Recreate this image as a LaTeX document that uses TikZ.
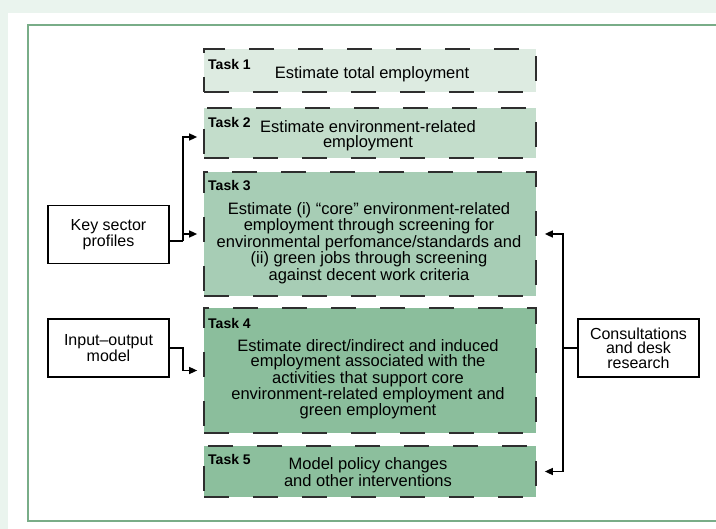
\documentclass[tikz,border=0pt]{standalone}
\usepackage{fontspec}
\setmainfont{Liberation Sans}
\usetikzlibrary{shapes,arrows.meta,fit,positioning,calc}
\definecolor{bgout}{HTML}{EAF4EE}
\definecolor{framegreen}{HTML}{79AD88}
\definecolor{dashgrey}{HTML}{2E2E2E}
\definecolor{taskA}{HTML}{DDEBE1}
\definecolor{taskB}{HTML}{C3DDCB}
\definecolor{taskC}{HTML}{A7CDB5}
\definecolor{taskD}{HTML}{8BBE9C}
\definecolor{taskE}{HTML}{8CBF9D}
\def\TaskFont{\fontsize{16.5}{15}\selectfont}

\begin{document}
\begin{tikzpicture}[x=1pt,y=-1pt,% pixel grid, y runs downwards
			every node/.style={
				align=center,  		% so that "\\" breaks the line
				inner sep=0pt
			},
			task/.style={rectangle,draw=dashgrey,line width=2.7pt,dash pattern=on 25pt off 24pt,minimum width=332pt},
			tasklabel/.style={anchor=west,font=\fontsize{14}{14}\selectfont\bfseries},
			tasktext/.style={font=\TaskFont},
			side/.style={rectangle,draw=black,line width=1.5pt,fill=white,minimum width=121pt,minimum height=58pt,font=\fontsize{16}{14.5}\selectfont},
			link/.style={draw=black,line width=1.5pt},
			arr/.style={link,-{Triangle[length=8pt,width=7pt]},shorten >=5.5pt}
		]
		\useasboundingbox (0,0) rectangle (716,529);
		% page and frame
		\fill[bgout] (0,0) rectangle (716,529);
		\fill[white] (8,13) rectangle (740,540);
		\draw[framegreen,line width=1.5pt] (740,25) -- (28,25) -- (28,521) -- (740,521);

		% the five tasks
		\node[task,fill=taskA,minimum height=43pt](T1) at (370,70.5){};
		\node[task,fill=taskB,minimum height=50pt](T2) at (370,133){};
		\node[task,fill=taskC,minimum height=124pt](T3) at (370,234){};
		\node[task,fill=taskD,minimum height=125pt](T4) at (370,370.5){};
		\node[task,fill=taskE,minimum height=51pt](T5) at (370,471.5){};

		\node[tasklabel](L1) at (208,64){Task 1};
		\node[tasklabel](L2) at (208,122){Task 2};
		\node[tasklabel](L3) at (208,186){Task 3};
		\node[tasklabel](L4) at (208,323){Task 4};
		\node[tasklabel](L5) at (208,459){Task 5};

		\node[tasktext](X1) at (372,74){Estimate total employment};
		\node[tasktext](X2) at (368,135.5){Estimate environment-related\\ employment};
		\node[tasktext](X3) at (369,243){Estimate (i) “core” environment-related\\ employment through screening for\\ environmental perfomance/standards and\\ (ii) green jobs through screening\\ against decent work criteria};
		\node[tasktext](X4) at (368,379.5){Estimate direct/indirect and induced\\ employment associated with the\\ activities that support core\\ environment-related employment and\\ green employment};
		\node[tasktext](X5) at (368,472){Model policy changes\\ and other interventions};

		% inputs on both sides
		\node[side](KSP) at (108.5,234.5){Key sector\\ profiles};
		\node[side](IO) at (108.5,348){Input–output\\ model};
		\node[side](CDR) at (638.5,348){Consultations\\ and desk\\ research};

		\coordinate (KJ) at (183,241);
		\coordinate (CJ) at (563,348);
		\draw[link] (KSP.east |- KJ) -- (KJ);
		\draw[arr] (KJ) |- ([yshift=-4pt]T2.west);
		\draw[arr] (KJ |- T3.west) -- (T3.west);
		\draw[arr] (IO.east) -- ++(13,0) |- (T4.west);
		\draw[link] (CDR.west) -- (CJ);
		\draw[arr,shorten >=7.5pt] (CJ) |- (T3.east);
		\draw[arr,shorten >=7.5pt] (CJ) |- (T5.east);
	\end{tikzpicture}
\end{document}
